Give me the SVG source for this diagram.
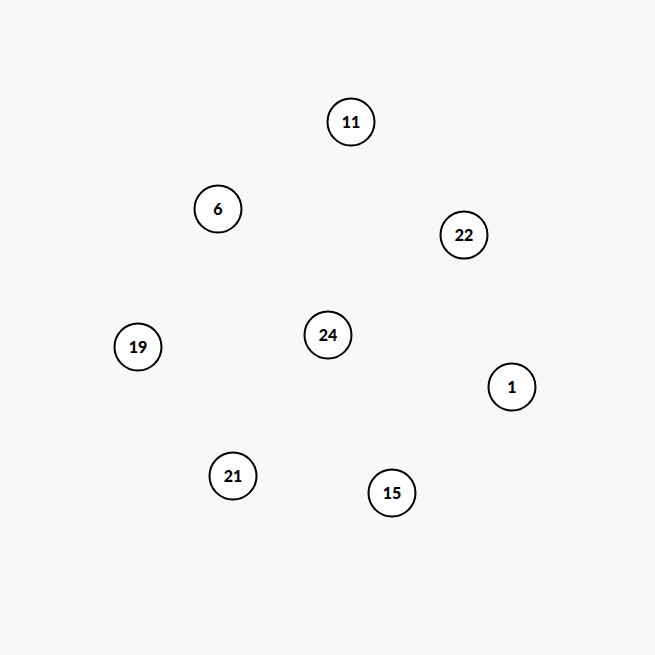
<svg xmlns="http://www.w3.org/2000/svg" width="655" height="655" viewBox="0 0 655 655">
<style>
.n circle{fill:#ffffff;stroke:#000000;stroke-width:2}
.n text{font-family:Lato,"Liberation Sans",sans-serif;font-weight:900;font-size:16px;fill:#000000;text-anchor:middle;dominant-baseline:central}
</style>
<rect width="655" height="655" fill="#f8f8f8"/>
<g id="connectors"></g>
<g id="node-11" class="n"><circle cx="351" cy="122" r="23.5"/><text x="351" y="121">11</text></g>
<g id="node-6" class="n"><circle cx="218" cy="209" r="23.5"/><text x="218" y="208">6</text></g>
<g id="node-22" class="n"><circle cx="464" cy="235" r="23.5"/><text x="464" y="234">22</text></g>
<g id="node-19" class="n"><circle cx="138" cy="347" r="23.5"/><text x="138" y="346">19</text></g>
<g id="node-24" class="n"><circle cx="328" cy="335" r="23.5"/><text x="328" y="334">24</text></g>
<g id="node-1" class="n"><circle cx="512" cy="387" r="23.5"/><text x="512" y="386">1</text></g>
<g id="node-21" class="n"><circle cx="233" cy="476" r="23.5"/><text x="233" y="475">21</text></g>
<g id="node-15" class="n"><circle cx="392" cy="493" r="23.5"/><text x="392" y="492">15</text></g>
</svg>
